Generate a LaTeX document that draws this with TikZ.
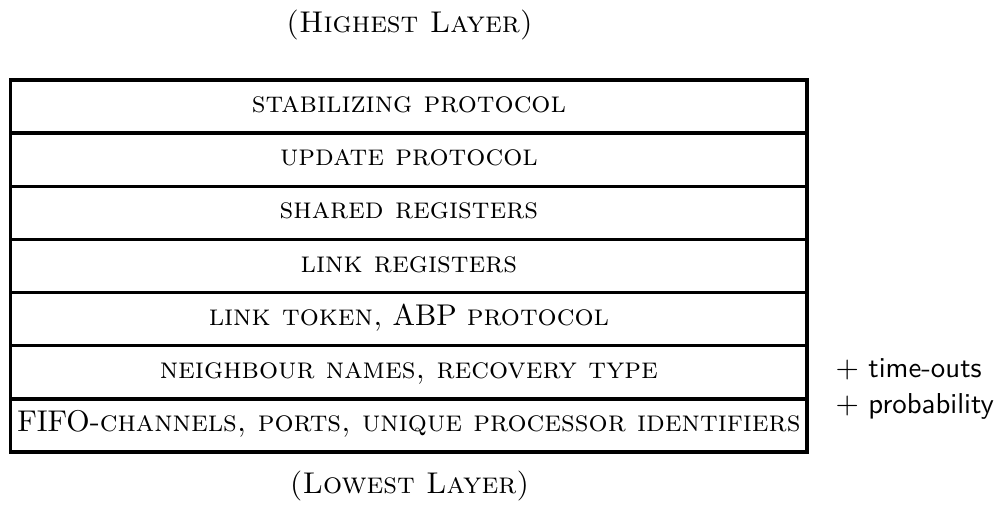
\documentclass[tikz,border=0pt]{standalone}
\usepackage{tikz}
\usetikzlibrary{positioning}

\begin{document}
\begin{tikzpicture}
		[x=1pt, y=1pt, inner sep=0pt,
		layer/.style	= {rectangle, draw, line width=1.1pt, outer sep=0pt, minimum width=265.4pt, minimum height=17.714pt, text height=4pt, text depth=0pt},
		caption/.style	= {font=\normalsize},
		extra/.style	= {anchor=base west, font=\sffamily\fontsize{9.6pt}{11pt}\selectfont}]
		
		\useasboundingbox (0, 0) rectangle (332.33, 173.67);
		
		\node at (136.5, 165.3)		[caption]	(high)	{\textsc{(Highest Layer)}};
		\node at (136.5, 11.8)		[caption]	(low)	{\textsc{(Lowest Layer)}};
		
		\node at (136.3, 138.14)	[layer]		(stab)	{\textsc{stabilizing protocol}};
		\node at (136.3, 120.43)	[layer]		(upd)	{\textsc{update protocol}};
		\node at (136.3, 102.71)	[layer]		(shr)	{\textsc{shared registers}};
		\node at (136.3, 85.0)		[layer]		(lreg)	{\textsc{link registers}};
		\node at (136.3, 67.29)		[layer]		(ltok)	{\textsc{link token,} ABP \textsc{protocol}};
		\node at (136.3, 49.57)		[layer]		(nbr)	{\textsc{neighbour names, recovery type}};
		\node at (136.3, 31.86)		[layer]		(fifo)	{FIFO-\textsc{channels, ports, unique processor identifiers}};
		
		\node at (278.3, 47.67)		[extra]		(tout)	{$+$ time-outs};
		\node at (278.3, 36.0)		[extra]		(prob)	{$+$ probability};
		
		\end{tikzpicture}
\end{document}
